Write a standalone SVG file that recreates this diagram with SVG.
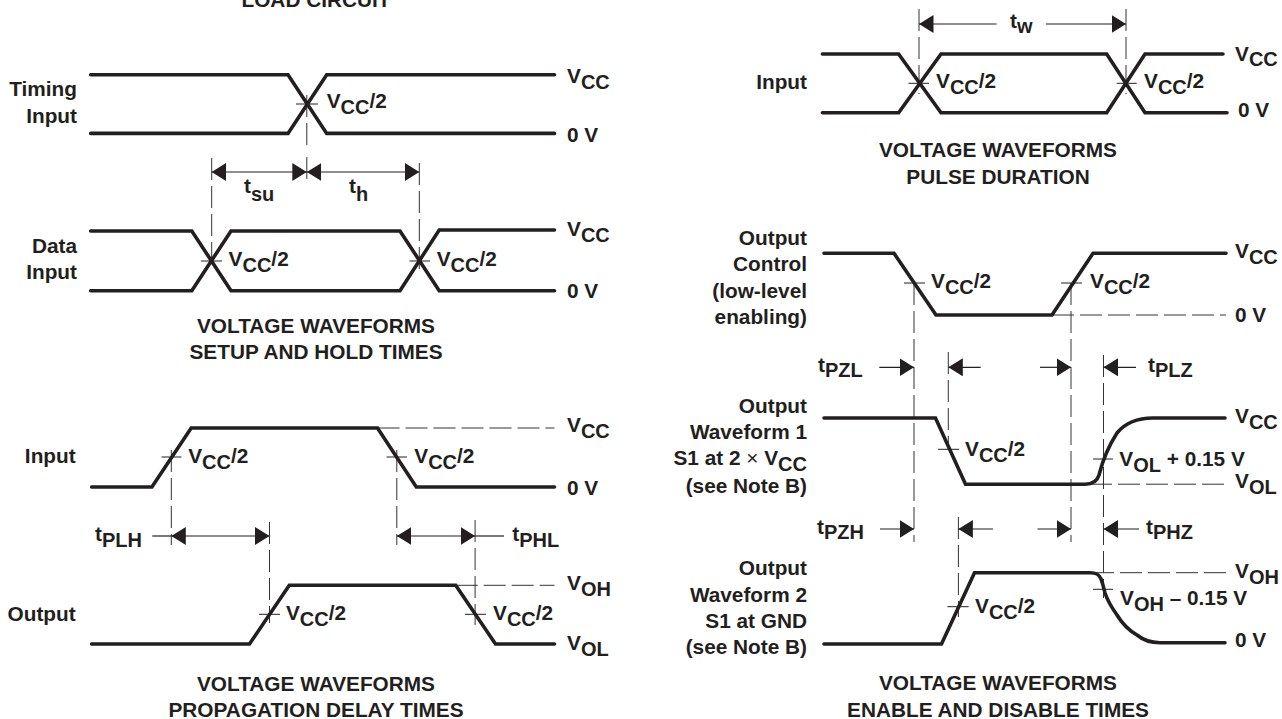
<svg xmlns="http://www.w3.org/2000/svg" width="1282" height="719" viewBox="0 0 1282 719">
<style>
text{font-family:"Liberation Sans",Arial,sans-serif;font-weight:700;font-size:20.8px;fill:#231f20}
.s{font-size:20px}
.n{font-weight:400}
.r{text-anchor:end}.m{text-anchor:middle}
.w{fill:none;stroke:#231f20;stroke-width:3.6;stroke-linejoin:miter;stroke-linecap:round}
.x{fill:none;stroke:#231f20;stroke-width:1}
.d{fill:none;stroke:#333;stroke-width:1;stroke-dasharray:22 6}
.a{fill:none;stroke:#231f20;stroke-width:1.2}
.b{marker-end:url(#ah)}.c{marker-start:url(#ah);marker-end:url(#ah)}
</style>
<defs><marker id="ah" markerUnits="userSpaceOnUse" markerWidth="15" markerHeight="18" refX="14.5" refY="9" orient="auto-start-reverse"><polygon points="0,0 14.5,9 0,18" fill="#231f20"/></marker></defs>
<rect width="1282" height="719" fill="#fff"/>
<g id="connectors">
<path class="d" d="M306.8 95V148M306.8 157V183M211.7 158V270M419.3 163V270"/>
<path class="d" d="M171.3 450V545M396.8 450V545M269.5 522V623M475.1 520V625"/>
<path class="d" d="M377.5 428H554.5M455.7 585.3H554.5"/>
<path class="d" d="M919 9V94M1126 9V94"/>
<path class="d" d="M914 283V542M1071 283V542M948.3 352V450M1103.5 355V598M958.4 517V617"/>
<path class="d" d="M1052 315H1226M1090 484.2H1226M1092 572.7H1226"/>
<path class="a c" d="M211.7 172H306.8"/><path class="a c" d="M306.8 172H419.3"/>
<path class="a" d="M152.3 536H171.3"/><path class="a c" d="M171.3 536H269.5"/>
<path class="a c" d="M396.8 536H475.1"/><path class="a" d="M475.1 536H504"/>
<path class="a b" d="M996.5 24H919"/><path class="a b" d="M1046 24H1126"/>
<path class="a b" d="M879.3 367.3H914"/><path class="a b" d="M980.7 367.3H948.3"/><path class="a b" d="M1040 367.3H1071"/><path class="a b" d="M1136 367.3H1103.5"/>
<path class="a b" d="M880 529H914"/><path class="a b" d="M993 529H958.4"/><path class="a b" d="M1037.5 529H1071"/><path class="a b" d="M1139 529H1103.5"/>
<path class="x" d="M296 104H318M201 261H222M409.5 261H430M161.5 457H181.5M386.5 457H407M259 614.3H280M465 614.3H486M908.4 83.3H929M1116.7 83.3H1136.7M904 283H925M1061 283H1082M938 449.3H959M1093 459H1113M947.4 606.7H968.7M1093 589.3H1113"/>
</g>
<g id="title-load"><text class="m" x="316" y="7">LOAD CIRCUIT</text></g>
<g id="timing-input">
<path class="w" d="M90.7 74.7H288L326.7 133.4H554.5"/><path class="w" d="M90.7 133.4H288L326.7 74.7H554.5"/>
<text class="r" x="77" y="96">Timing</text><text class="r" x="77" y="123">Input</text>
<text x="326.7" y="108">V<tspan class="s" dy="6">CC</tspan><tspan dy="-6">/2</tspan></text>
<text x="567" y="82.5">V<tspan class="s" dy="6">CC</tspan></text><text x="567" y="142">0 V</text>
</g>
<g id="setup-labels"><text x="244" y="193">t<tspan class="s" dy="7.5">su</tspan></text><text x="349" y="193">t<tspan class="s" dy="7.5">h</tspan></text></g>
<g id="data-input">
<path class="w" d="M90.7 231H191.8L231 290.7H400L439.2 230H554.5"/><path class="w" d="M90.7 290.7H191.8L231 231H400L439.2 290.7H554.5"/>
<text class="r" x="77" y="253">Data</text><text class="r" x="77" y="279">Input</text>
<text x="228.6" y="266">V<tspan class="s" dy="6">CC</tspan><tspan dy="-6">/2</tspan></text>
<text x="436.7" y="266">V<tspan class="s" dy="6">CC</tspan><tspan dy="-6">/2</tspan></text>
<text x="567" y="236">V<tspan class="s" dy="6">CC</tspan></text><text x="567" y="298">0 V</text>
</g>
<g id="title-setup"><text class="m" x="316" y="333">VOLTAGE WAVEFORMS</text><text class="m" x="316" y="359">SETUP AND HOLD TIMES</text></g>
<g id="prop-input">
<path class="w" d="M91.6 487H151.9L191.2 428H377.5L416.3 487H554.5"/>
<text class="r" x="75.7" y="463">Input</text>
<text x="188.2" y="463">V<tspan class="s" dy="6">CC</tspan><tspan dy="-6">/2</tspan></text>
<text x="414.3" y="463">V<tspan class="s" dy="6">CC</tspan><tspan dy="-6">/2</tspan></text>
<text x="567" y="432">V<tspan class="s" dy="6">CC</tspan></text><text x="567" y="495">0 V</text>
</g>
<g id="prop-labels"><text x="95" y="541">t<tspan class="s" dy="5.7">PLH</tspan></text><text x="512.2" y="541">t<tspan class="s" dy="5.7">PHL</tspan></text></g>
<g id="prop-output">
<path class="w" d="M91.6 644H249.5L289.3 585.3H455.7L495.5 644H554.5"/>
<text class="r" x="75.7" y="621">Output</text>
<text x="285.9" y="620">V<tspan class="s" dy="6">CC</tspan><tspan dy="-6">/2</tspan></text>
<text x="493" y="620">V<tspan class="s" dy="6">CC</tspan><tspan dy="-6">/2</tspan></text>
<text x="567" y="590">V<tspan class="s" dy="6">OH</tspan></text><text x="567" y="650">V<tspan class="s" dy="6">OL</tspan></text>
</g>
<g id="title-prop"><text class="m" x="316" y="691">VOLTAGE WAVEFORMS</text><text class="m" x="316" y="717">PROPAGATION DELAY TIMES</text></g>
<g id="pulse-input">
<path class="w" d="M822.4 54H898.6L941 112.7H1106.7L1145 54H1223"/><path class="w" d="M822.4 112.7H898.6L941 54H1106.7L1145 112.7H1227"/>
<text class="r" x="807" y="89">Input</text>
<text x="936" y="88.3">V<tspan class="s" dy="5.7">CC</tspan><tspan dy="-5.7">/2</tspan></text>
<text x="1144" y="88.3">V<tspan class="s" dy="5.7">CC</tspan><tspan dy="-5.7">/2</tspan></text>
<text x="1235" y="61">V<tspan class="s" dy="5">CC</tspan></text><text x="1238" y="117.3">0 V</text>
<text x="1010" y="28.3">t<tspan class="s" dy="5">w</tspan></text>
</g>
<g id="title-pulse"><text class="m" x="998" y="157">VOLTAGE WAVEFORMS</text><text class="m" x="998" y="184">PULSE DURATION</text></g>
<g id="output-control">
<path class="w" d="M824 253.3H894L936 315H1052L1093 253.3H1226"/>
<text class="r" x="807" y="245">Output</text><text class="r" x="807" y="271">Control</text><text class="r" x="807" y="298">(low-level</text><text class="r" x="807" y="324">enabling)</text>
<text x="931" y="288">V<tspan class="s" dy="6">CC</tspan><tspan dy="-6">/2</tspan></text>
<text x="1090" y="288">V<tspan class="s" dy="6">CC</tspan><tspan dy="-6">/2</tspan></text>
<text x="1235" y="258">V<tspan class="s" dy="6">CC</tspan></text><text x="1235" y="322">0 V</text>
</g>
<g id="enable-labels">
<text x="818" y="372.3">t<tspan class="s" dy="5">PZL</tspan></text><text x="1148" y="372.3">t<tspan class="s" dy="5">PLZ</tspan></text>
<text x="817" y="534">t<tspan class="s" dy="5">PZH</tspan></text><text x="1146" y="534">t<tspan class="s" dy="5">PHZ</tspan></text>
</g>
<g id="waveform-1">
<path class="w" d="M824 418H935.5L965.5 484.2H1085C1092 484.2 1097 482 1099 475C1102 463 1108 447 1117 433C1126 422 1138 418 1153 418H1225"/>
<text class="r" x="807" y="413">Output</text><text class="r" x="807" y="439">Waveform 1</text><text class="r" x="807" y="465">S1 at 2 <tspan class="n">×</tspan> V<tspan class="s" dy="6">CC</tspan></text><text class="r" x="807" y="493">(see Note B)</text>
<text x="965" y="456">V<tspan class="s" dy="6">CC</tspan><tspan dy="-6">/2</tspan></text>
<text x="1119.3" y="465.5">V<tspan class="s" dy="6">OL</tspan><tspan dy="-6"> + 0.15 V</tspan></text>
<text x="1235" y="423.3">V<tspan class="s" dy="5.5">CC</tspan></text><text x="1235" y="488">V<tspan class="s" dy="6">OL</tspan></text>
</g>
<g id="waveform-2">
<path class="w" d="M824 644H941.5L974.5 572.7H1090C1096 572.7 1099 574 1101 579C1103 584 1104 589 1105 593C1108 602 1112 608 1117 615C1123 625 1130 631 1137 635C1143 640 1151 642.7 1160 642.7H1225"/>
<text class="r" x="807" y="575">Output</text><text class="r" x="807" y="602">Waveform 2</text><text class="r" x="807" y="628">S1 at GND</text><text class="r" x="807" y="654">(see Note B)</text>
<text x="975" y="613">V<tspan class="s" dy="6">CC</tspan><tspan dy="-6">/2</tspan></text>
<text x="1120" y="605">V<tspan class="s" dy="5.5">OH</tspan><tspan dy="-5.5"> – 0.15 V</tspan></text>
<text x="1235" y="578">V<tspan class="s" dy="5.5">OH</tspan></text><text x="1235" y="647.3">0 V</text>
</g>
<g id="title-enable"><text class="m" x="998" y="690">VOLTAGE WAVEFORMS</text><text class="m" x="998" y="717">ENABLE AND DISABLE TIMES</text></g>
</svg>
